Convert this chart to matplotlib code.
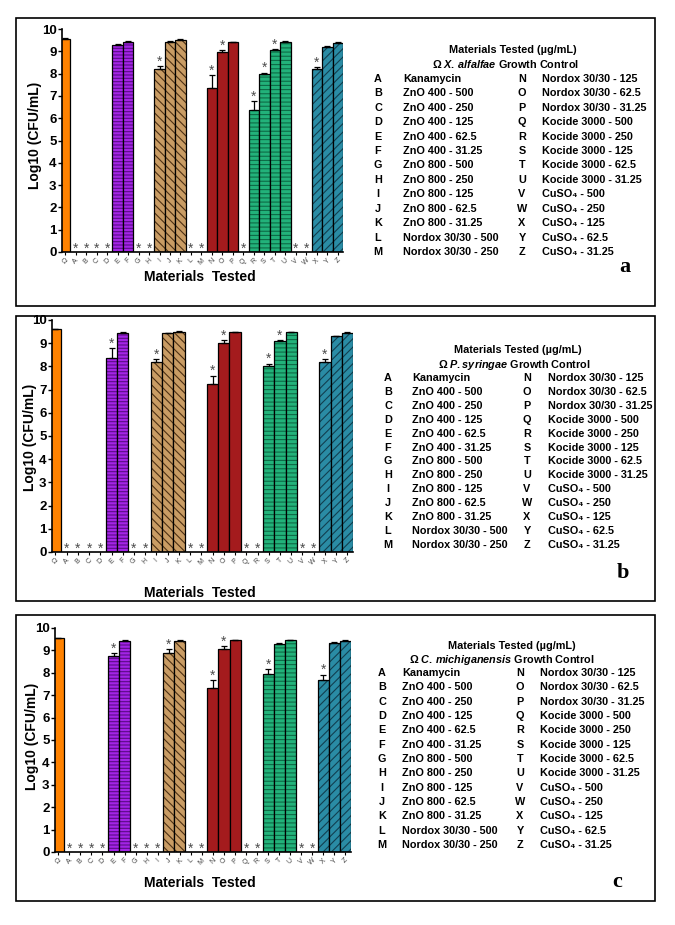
import matplotlib
matplotlib.use('Agg')
import matplotlib.pyplot as plt
from matplotlib.patches import Rectangle

plt.rcParams['font.family'] = ['Liberation Sans', 'DejaVu Sans']
plt.rcParams['font.weight'] = 'bold'
plt.rcParams['mathtext.fontset'] = 'custom'
plt.rcParams['mathtext.rm'] = 'Liberation Sans:bold'
plt.rcParams['mathtext.it'] = 'Liberation Sans:italic:bold'
plt.rcParams['hatch.linewidth'] = 0.8

W, H = 675, 925

categories = ['Ω', 'A', 'B', 'C', 'D', 'E', 'F', 'G', 'H', 'I', 'J', 'K', 'L', 'M',
              'N', 'O', 'P', 'Q', 'R', 'S', 'T', 'U', 'V', 'W', 'X', 'Y', 'Z']
groups = (['ctrl', 'kan'] + ['zn400'] * 5 + ['zn800'] * 5 + ['nordox'] * 5
          + ['kocide'] * 5 + ['cuso4'] * 5)

materials = ['Kanamycin', 'ZnO 400 - 500', 'ZnO 400 - 250', 'ZnO 400 - 125',
             'ZnO 400 - 62.5', 'ZnO 400 - 31.25', 'ZnO 800 - 500', 'ZnO 800 - 250',
             'ZnO 800 - 125', 'ZnO 800 - 62.5', 'ZnO 800 - 31.25',
             'Nordox 30/30 - 500', 'Nordox 30/30 - 250', 'Nordox 30/30 - 125',
             'Nordox 30/30 - 62.5', 'Nordox 30/30 - 31.25', 'Kocide 3000 - 500',
             'Kocide 3000 - 250', 'Kocide 3000 - 125', 'Kocide 3000 - 62.5',
             'Kocide 3000 - 31.25', 'CuSO₄ - 500', 'CuSO₄ - 250', 'CuSO₄ - 125',
             'CuSO₄ - 62.5', 'CuSO₄ - 31.25']

# panel a: X. alfalfae
values_a = [9.55, 0, 0, 0, 0, 9.28, 9.42, 0, 0, 8.2, 9.4, 9.52, 0, 0,
            7.35, 8.95, 9.4, 0, 6.38, 8.0, 9.05, 9.42, 0, 0, 8.2, 9.2, 9.38]
errors_a = [0.03, 0, 0, 0, 0, 0.04, 0.03, 0, 0, 0.12, 0.04, 0.03, 0, 0,
            0.58, 0.12, 0.03, 0, 0.38, 0.04, 0.04, 0.03, 0, 0, 0.1, 0.06, 0.04]
stars_a = 'ABCDGHILMNOQRSTVWX'

# panel b: P. syringae
values_b = [9.6, 0, 0, 0, 0, 8.35, 9.45, 0, 0, 8.2, 9.42, 9.5, 0, 0,
            7.25, 9.0, 9.48, 0, 0, 8.0, 9.1, 9.48, 0, 0, 8.2, 9.3, 9.45]
errors_b = [0.02, 0, 0, 0, 0, 0.45, 0.03, 0, 0, 0.12, 0.03, 0.02, 0, 0,
            0.35, 0.12, 0.02, 0, 0, 0.12, 0.04, 0.02, 0, 0, 0.1, 0.03, 0.03]
stars_b = 'ABCDEGHILMNOQRSTVWX'

# panel c: C. michiganensis
values_c = [9.55, 0, 0, 0, 0, 8.75, 9.42, 0, 0, 0, 8.9, 9.42, 0, 0,
            7.32, 9.07, 9.45, 0, 0, 7.95, 9.3, 9.45, 0, 0, 7.7, 9.35, 9.42]
errors_c = [0.02, 0, 0, 0, 0, 0.12, 0.03, 0, 0, 0, 0.15, 0.03, 0, 0,
            0.35, 0.12, 0.03, 0, 0, 0.22, 0.03, 0.03, 0, 0, 0.22, 0.02, 0.03]
stars_c = 'ABCDEGHIJLMNOQRSVWX'

# face colour, hatch colour, hatch pattern
styles = {
    'ctrl': ('#FF8200', None, ''),
    'kan': ('#FF8200', None, ''),
    'zn400': ('#A424E6', '#5A0C86', '-----'),
    'zn800': ('#C99C64', '#4E3114', '\\\\\\\\'),
    'nordox': ('#A41B1D', None, ''),
    'kocide': ('#22B27A', '#0E6B46', '----'),
    'cuso4': ('#2A8CA5', '#123F50', '////'),
}


def fx(x):
    return x / W


def fy(y):
    return 1 - y / H


def draw_panel(box, ax_px, values, errors, stars, species, leg, letter, ylab, xlab):
    x0, y0, x1, y1 = box
    fig.add_artist(Rectangle((fx(x0), fy(y1)), fx(x1) - fx(x0), fy(y0) - fy(y1),
                             transform=fig.transFigure, fill=False, lw=1.2, color='black'))
    left, right, ytop, ybot = ax_px
    ax = fig.add_axes([fx(left), fy(ybot), fx(right) - fx(left), fy(ytop) - fy(ybot)])
    xs = range(len(categories))
    for i in xs:
        face, hcol, hatch = styles[groups[i]]
        if values[i] <= 0:
            continue
        if hatch:
            ax.bar(i, values[i], width=1.0, color=face, edgecolor=hcol, hatch=hatch, lw=0)
        else:
            ax.bar(i, values[i], width=1.0, color=face, lw=0)
        ax.bar(i, values[i], width=1.0, facecolor='none', edgecolor='black', lw=0.9)
        if errors[i] > 0:
            ax.errorbar(i, values[i], yerr=[[0], [errors[i]]], fmt='none',
                        ecolor='black', elinewidth=0.9, capsize=2.2, capthick=0.9)
    for i in xs:
        if categories[i] in stars:
            y = values[i] + errors[i] + 0.02 if values[i] > 0 else -0.02
            ax.text(i, y, '*', ha='center', va='baseline', fontsize=10,
                    color='#4d4d4d', fontweight='normal')
    ax.set_xlim(-0.3, 26.5)
    ax.set_ylim(0, 10)
    ax.set_yticks(range(0, 11))
    ax.set_xticks(list(xs))
    ax.set_xticklabels(categories, rotation=45, fontsize=5, color='#444444',
                       fontweight='normal')
    ax.tick_params(axis='y', labelsize=9.5, length=3, width=1, pad=1)
    ax.tick_params(axis='x', length=2.5, width=0.8, pad=1)
    for s in ['top', 'right']:
        ax.spines[s].set_visible(False)
    for s in ['left', 'bottom']:
        ax.spines[s].set_linewidth(1.2)
    fig.text(fx(ylab[0]), fy(ylab[1]), 'Log10 (CFU/mL)', rotation=90,
             ha='center', va='center', fontsize=10)
    fig.text(fx(xlab[0]), fy(xlab[1]), 'Materials  Tested', ha='center',
             va='center', fontsize=10)

    t1, t2, rows, cols, fs = leg
    fig.text(fx(t1[0]), fy(t1[1]), 'Materials Tested (µg/mL)', ha='center',
             va='center', fontsize=fs)
    fig.text(fx(t2[0]), fy(t2[1]), 'Ω ' + species + ' Growth Control',
             ha='center', va='center', fontsize=fs)
    r0, r1 = rows
    step = (r1 - r0) / 12
    for k in range(13):
        yy = fy(r0 + k * step)
        fig.text(fx(cols[0]), yy, categories[1 + k], ha='center', va='center', fontsize=fs)
        fig.text(fx(cols[1]), yy, materials[k], ha='left', va='center', fontsize=fs)
        fig.text(fx(cols[2]), yy, categories[14 + k], ha='center', va='center', fontsize=fs)
        fig.text(fx(cols[3]), yy, materials[13 + k], ha='left', va='center', fontsize=fs)
    fig.text(fx(letter[1]), fy(letter[2]), letter[0], ha='center', va='center',
             fontsize=16, family='Liberation Serif', fontweight='bold')
    return ax


fig = plt.figure(figsize=(W / 100, H / 100), dpi=100)

draw_panel((16, 18, 655, 306), (62, 343, 29, 252), values_a, errors_a, stars_a,
           r'$\mathit{X.\,alfalfae}$',
           ((513, 50), (506, 64), (79, 252), (378, 403, 522, 542), 7.8),
           ('a', 625, 267), (35, 135), (200, 277))

draw_panel((16, 316, 655, 601), (52, 353, 320, 552), values_b, errors_b, stars_b,
           r'$\mathit{P.syringae}$',
           ((518, 350), (514, 365), (378, 545), (388, 412, 527, 548), 7.8),
           ('b', 623, 573), (30, 437), (200, 593))

draw_panel((16, 615, 655, 901), (55, 351, 628, 852), values_c, errors_c, stars_c,
           r'$\mathit{C.\,michiganensis}$',
           ((512, 646), (502, 660), (673, 845), (382, 402, 520, 540), 7.8),
           ('c', 617, 882), (32, 736), (200, 883))

fig.savefig('out.png', dpi=100)
